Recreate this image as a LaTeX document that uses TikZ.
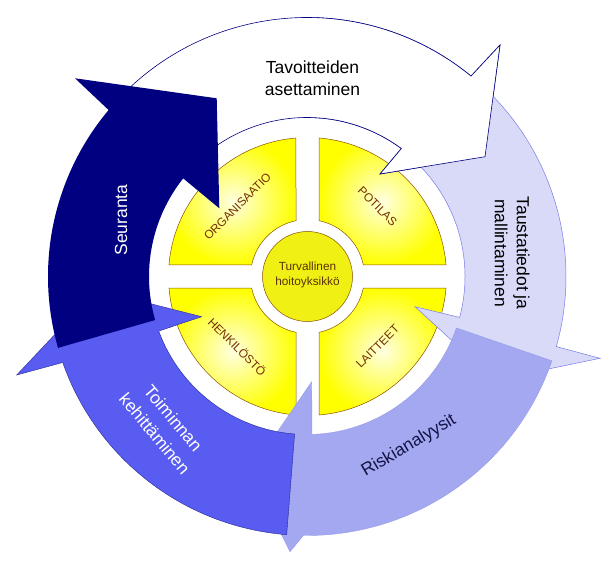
\documentclass[tikz,border=0pt]{standalone}
\usepackage{fontspec}
\setmainfont{Liberation Sans}
\usetikzlibrary{calc}
\definecolor{navyS}{RGB}{0,0,128}
\definecolor{blueT}{RGB}{88,92,240}
\definecolor{periR}{RGB}{163,168,240}
\definecolor{lavA}{RGB}{216,218,248}
\definecolor{secline}{RGB}{140,80,0}
\definecolor{sectext}{RGB}{115,45,0}
\definecolor{midtext}{RGB}{90,50,0}
\definecolor{midfill}{RGB}{240,240,20}
\definecolor{ristext}{RGB}{20,20,70}
\newcommand{\pathW}{($(C)+(138:259pt)$) arc[start angle=138,end angle=50.7,radius=259pt] -- (500,515) -- (485,403.3) -- (380,386) -- ($(C)+(53.6:159pt)$) arc[start angle=53.6,end angle=138,radius=159pt] -- cycle}
\newcommand{\pathA}{($(C)+(46:259pt)$) arc[start angle=46,end angle=-15.7,radius=259pt] -- (600,201.7) -- (495,180) -- (415,253.3) -- ($(C)+(-15:158pt)$) arc[start angle=-15,end angle=46,radius=158pt] -- cycle}
\newcommand{\pathR}{($(C)+(-19:259pt)$) arc[start angle=-19,end angle=-90.8,radius=259pt] -- (290,8.3) -- (250,88.3) -- (311.7,178.3) -- ($(C)+(-88.2:158pt)$) arc[start angle=-88.2,end angle=-19,radius=158pt] -- cycle}
\newcommand{\pathT}{($(C)+(-94.5:259pt)$) arc[start angle=-94.5,end angle=-160.6,radius=259pt] -- (16.7,185) -- (96.7,270) -- (201.7,243.3) -- ($(C)+(-159.8:158pt)$) arc[start angle=-159.8,end angle=-94.5,radius=158pt] -- cycle}
\newcommand{\pathS}{($(C)+(196:259pt)$) arc[start angle=196,end angle=140,radius=259pt] -- (75,481.7) -- (216.7,461.7) -- (219.3,351.7) -- ($(C)+(141.6:158pt)$) arc[start angle=141.6,end angle=196,radius=158pt] -- cycle}
\begin{document}
\begin{tikzpicture}[x=1pt,y=1pt,
  arrowW/.style={fill=white,draw=navyS,line width=0.6pt},
  arrowA/.style={fill=lavA,draw={rgb,255:red,120;green,125;blue,228},line width=0.5pt},
  arrowR/.style={fill=periR,draw={rgb,255:red,150;green,155;blue,235},line width=0.4pt},
  arrowT/.style={fill=blueT,draw={rgb,255:red,40;green,40;blue,150},line width=0.4pt},
  arrowS/.style={fill=navyS},
  biglabel/.style={font=\fontsize{17.5}{22}\selectfont,align=center,inner sep=0pt},
  seclabel/.style={font=\fontsize{11.8}{13}\selectfont,text=sectext,inner sep=0pt},
  sector/.style={shade,inner color=yellow!12,outer color=yellow,draw=secline,line width=0.5pt}
]
\fill[white] (0,0) rectangle (612,560);
\useasboundingbox (0,0) rectangle (612,560);
\coordinate (C) at (307,283.5);
\coordinate (Y) at (307.5,283.5);
% yellow sectors
\foreach \r in {0,90,180,270}{
  \begin{scope}[shift={(Y)},rotate=\r]
    \path[sector] (11.5,55.83) -- (11.5,138.52) arc[start angle=85.25,end angle=4.75,radius=139pt] -- (55.83,11.5) arc[start angle=11.64,end angle=78.36,radius=57pt] -- cycle;
  \end{scope}
}
\path[fill=midfill,draw=secline,line width=0.5pt] (Y) circle[radius=45pt];
% arrows
\path[arrowW] \pathW;
\path[arrowA] \pathA;
\path[arrowR] \pathR;
\path[arrowT] \pathT;
\path[arrowS] \pathS;
\begin{scope}
  \clip (300,0) rectangle (612,560);
  \path[arrowW] \pathW;
\end{scope}
% labels
\node[seclabel,rotate=45] (org) at ($(Y)+(135:99pt)$) {ORGANISAATIO};
\node[seclabel,rotate=-45] (pot) at ($(Y)+(45:99pt)$) {POTILAS};
\node[seclabel,rotate=-45] (hen) at ($(Y)+(225:99pt)$) {HENKILÖSTÖ};
\node[seclabel,rotate=45] (lai) at ($(Y)+(-45:99pt)$) {LAITTEET};
\node[font=\fontsize{11.8}{15}\selectfont,align=center,text=midtext,inner sep=0pt] (tur) at (307.5,285) {Turvallinen\\hoitoyksikkö};
\node[biglabel] (tav) at (312.5,482) {Tavoitteiden\\asettaminen};
\node[biglabel,text=white,rotate=90] (seu) at (121,340) {Seuranta};
\node[biglabel,rotate=-90] (tau) at (512,307) {Taustatiedot ja\\mallintaminen};
\node[biglabel,text=ristext,rotate=30.7] (ris) at (409,114) {Riskianalyysit};
\node[biglabel,font=\fontsize{17.5}{24}\selectfont,text=white,rotate=-50] (toi) at (164,134) {Toiminnan\\kehittäminen};
\end{tikzpicture}
\end{document}
